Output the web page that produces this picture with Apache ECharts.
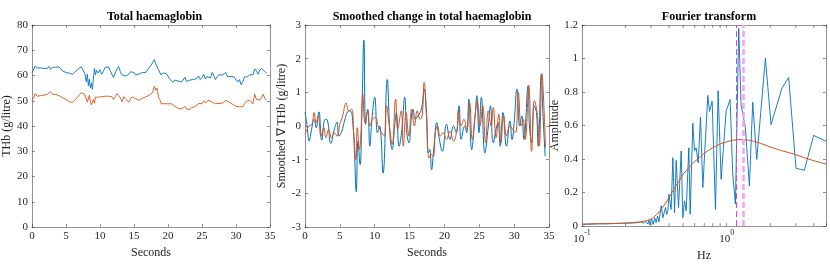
<!DOCTYPE html>
<html><head><meta charset="utf-8">
<script src="https://cdn.jsdelivr.net/npm/echarts@6/dist/echarts.min.js"></script>
<style>html,body{margin:0;padding:0;background:#fff}#c{width:830px;height:267px}</style>
</head><body><div id="c"></div>
<script>
// ---------- DATA ----------
const titles = ['Total haemaglobin', 'Smoothed change in total haemaglobin', 'Fourier transform'];
const xNames = ['Seconds', 'Seconds', 'Hz'];
const yNames = ['THb (g/litre)', 'Smoothed \u2207 THb (g/litre)', 'Amplitude'];

// Panel 1: total haemoglobin (seconds, g/litre)
const thbBlueT = [0,0.25,0.5,0.75,1,1.25,1.5,1.75,2,2.25,2.5,2.75,3,3.25,3.5,3.75,4,4.25,4.5,4.75,5,5.25,5.5,5.75,6,6.25,6.5,6.75,7,7.25,7.5,7.75,8,8.15,8.3,8.45,8.6,8.75,8.9,9.05,9.2,9.35,9.5,9.75,10,10.25,10.5,10.75,11,11.25,11.5,11.75,12,12.25,12.5,12.75,13,13.25,13.5,13.75,14,14.25,14.5,14.75,15,15.25,15.5,15.75,16,16.25,16.5,16.75,17,17.25,17.5,17.75,18,18.2,18.4,18.6,18.8,19,19.25,19.5,19.75,20,20.25,20.5,20.75,21,21.25,21.5,21.75,22,22.25,22.5,22.75,23,23.25,23.5,23.75,24,24.25,24.5,24.75,25,25.25,25.5,25.75,26,26.25,26.5,26.75,27,27.25,27.5,27.75,28,28.25,28.5,28.75,29,29.25,29.5,29.75,30,30.25,30.5,30.75,31,31.25,31.5,31.75,32,32.25,32.5,32.75,33,33.25,33.5,33.75,34,34.25,34.5];
const thbBlueV = [61,61.5,63.8,63,62.5,63,62.3,62.8,62.2,62.8,63.6,62.4,63.2,62.5,63.3,62.8,63.4,62.6,61.8,62.3,61.2,61.6,60.9,61.3,60.4,61.2,61.8,62.4,63,63.5,62.8,61,57.5,60.5,56,58.5,55,57,54.5,59,62.8,60.2,62,61,62.3,60.5,61.5,63.2,62.8,63.4,62,60.5,59.2,61,62.5,63.6,61.5,60.2,60.8,59.8,59.3,60.5,61.5,61.8,61.2,60.2,59.8,60.6,60.3,61.2,61.6,61.2,62.3,62.8,64,64.5,66.3,64.8,65.5,62.3,63,60.2,61,60.4,60.8,59.8,58.6,58.2,57.3,58.2,57.5,57.8,57.2,57.4,57,59.3,57.6,57.4,58.2,57.6,58.4,58,58.8,59.8,58.4,59.2,60.5,58.6,59.5,60.2,59,61.2,59.8,58.4,59.5,60.3,59.6,60.2,59.8,61.2,59.5,58.8,59.6,59,59.4,58.2,57.4,58.4,56.4,57.6,59.4,59.8,59.5,60.3,59.6,60.2,62.6,61.8,60.5,62,62.8,63.5,61.6,60.8];
const thbOrangeT = thbBlueT;
const thbOrangeV = [50.2,51,52.8,51.8,51.5,52,51.6,52.2,51.8,52.6,52.4,53.6,52.6,52.2,52.5,51.9,52,51.6,51.2,51.4,50.6,50.8,49.6,49.8,49.4,50,50.8,51.6,52.4,53.2,53.6,52.6,52,49.5,50.2,52.2,49.6,48.4,48.6,50.5,49,51.5,50.8,51.4,51,51.6,51.4,51.8,52.2,51.8,51.2,51.6,50.5,51.6,52.8,52,51.2,49.6,51.6,50.8,50.6,49.4,50.8,51.6,51.6,50.8,51.2,50.2,50.8,51,51.3,51.6,51.6,52.2,52.6,53.2,55.8,54.2,55,51.5,50.5,48.8,49.4,48.8,49,48.8,48.6,48.8,48.2,47.8,47.4,47,46.6,46.8,46.3,47.8,46.6,47,46.6,47.4,47.8,47.6,48.2,49,48.4,48.8,50,49.2,49.8,50.2,49.6,49.4,49.2,48.8,49.4,49,49.6,49,49.4,50.2,49.8,49.4,48.8,48.6,48.8,47.8,47.2,47.6,47.2,47.6,48.8,49.8,49.4,50.2,49.6,48.8,52.6,50.6,50,50.2,51.2,52.6,50.8,50.2];

// Panel 2: smoothed change (seconds, g/litre)
const dBlueT = [0,0.3,0.6,0.9,1.3,1.6,2.0,2.4,2.9,3.2,3.7,4.2,4.6,4.85,5.2,5.8,6.1,6.5,6.9,7.1,7.35,7.6,7.9,8.15,8.45,8.7,9.0,9.3,9.6,10.0,10.4,10.7,11.2,11.8,12.2,12.5,12.9,13.1,13.5,13.9,14.3,14.6,14.9,15.3,15.5,15.8,16.2,16.7,17.1,17.4,17.7,17.9,18.15,18.5,18.9,19.2,19.7,20.3,20.8,21.3,21.7,22.1,22.4,22.9,23.2,23.5,23.9,24.4,24.65,24.95,25.3,25.8,26.3,26.6,27.0,27.5,27.7,28.0,28.4,28.9,29.4,29.7,30.0,30.4,30.8,31.1,31.4,32.0,32.2,32.5,32.9,33.2,33.45,33.9,34.1,34.45];
const dBlueV = [0.42,0.0,-0.45,-0.15,0.2,-0.05,0.42,-0.42,0.2,0.18,-0.52,-0.1,0.12,-0.3,-0.2,0.25,0.42,0.45,0.0,-0.8,-1.95,-0.45,-1.15,0.3,2.55,0.05,0.5,-0.6,0.2,0.85,-0.2,0.0,-1.4,1.38,-0.3,-0.7,0.1,0.4,-0.6,-0.1,0.85,-0.2,-0.5,0.35,0.5,0.2,0.3,0.5,1.1,0.4,-0.8,-0.7,-1.3,-0.6,0.1,-0.3,-0.75,0.05,-0.4,0.0,-0.2,0.6,-0.4,0.0,-0.2,0.8,-0.7,0.3,0.9,-0.2,0.85,-0.8,0.0,0.6,-0.5,0.0,0.1,-0.6,0.4,-0.6,0.15,-0.4,0.1,1.1,0.0,0.3,-0.4,1.2,0.0,-0.5,0.6,0.4,-0.6,1.55,0.5,-0.9];
const dOrangeT = [0,0.3,0.6,1.0,1.3,1.6,1.9,2.3,2.7,3.0,3.4,3.8,4.2,4.6,5.0,5.4,5.9,6.3,6.7,7.0,7.3,7.5,7.8,8.0,8.3,8.6,9.0,9.3,9.7,10.1,10.5,11.0,11.4,11.7,12.1,12.5,13.0,13.3,13.8,14.1,14.5,14.9,15.3,15.7,16.1,16.5,16.8,17.1,17.4,17.8,18.1,18.4,18.7,19.0,19.4,19.8,20.3,20.8,21.3,21.8,22.0,22.4,22.8,23.2,23.6,24.0,24.4,24.7,25.1,25.5,25.9,26.3,26.7,27.0,27.4,27.8,28.1,28.5,28.9,29.4,29.8,30.2,30.6,31.0,31.3,31.6,32.1,32.5,32.9,33.3,33.6,34.0,34.2,34.5];
const dOrangeV = [-0.25,-0.1,0.0,0.05,0.4,0.1,0.3,-0.3,-0.05,-0.35,-0.1,-0.35,-0.2,-0.3,0.05,0.3,0.68,0.45,0.5,-0.3,-1.0,-0.05,-0.7,-0.3,0.95,0.1,0.45,0.0,0.2,0.25,0.0,-0.2,-0.3,0.6,0.0,-0.55,0.8,-0.1,0.45,-0.6,0.4,-0.3,0.5,0.0,0.45,0.2,0.3,1.3,0.5,-0.95,-0.85,-0.9,-0.2,0.0,-0.3,-0.2,-0.4,-0.15,-0.45,-0.1,0.45,0.0,0.2,-0.1,0.7,-0.4,0.3,0.75,0.0,0.6,-0.5,0.45,0.0,0.55,-0.35,0.35,-0.5,0.3,-0.3,0.0,-0.1,-0.2,1.0,0.0,0.2,-0.4,1.2,-0.75,0.75,0.4,-0.6,1.55,0.9,-0.65];

// Panel 3: Fourier transform (Hz, amplitude)
const fftHz = [0.1,0.115,0.13,0.145,0.16,0.18,0.2,0.22,0.24,0.255,0.265,0.275,0.285,0.29,0.295,0.302,0.31,0.318,0.325,0.333,0.34,0.3526,0.362,0.3777,0.385,0.392,0.398,0.413,0.4244,0.4357,0.4474,0.4644,0.4845,0.4975,0.5108,0.5245,0.5472,0.559,0.583,0.5985,0.6146,0.6345,0.6587,0.6836,0.7398,0.7597,0.7926,0.8359,0.8719,0.9146,0.99,1.055,1.10,1.148,1.21,1.256,1.346,1.434,1.512,1.611,1.849,2.023,2.409,2.678,3.009,3.435,3.983,4.85];
const fftAmp = [0.01,0.012,0.014,0.013,0.015,0.016,0.017,0.018,0.02,0.025,0.018,0.03,0.012,0.035,0.005,0.045,0.01,0.05,0.02,0.06,0.025,0.121,0.05,0.111,0.07,0.091,0.19,0.10,0.408,0.08,0.392,0.111,0.448,0.05,0.15,0.091,0.467,0.071,0.614,0.45,0.467,0.378,0.65,0.23,0.78,0.685,0.745,0.1,0.808,0.279,0.685,0.755,0.309,0.131,1.18,0.725,0.586,0.24,0.739,0.398,1.002,0.606,0.824,0.887,0.345,0.333,0.541,0.507];
const fitHz = [0.1,0.15,0.2,0.25,0.28,0.3,0.33,0.36,0.4,0.43,0.47,0.5,0.55,0.6,0.65,0.7,0.8,0.9,1.0,1.1,1.2,1.3,1.4,1.5,1.7,2.0,2.4,2.8,3.2,3.6,4.0,4.4,4.85];
const fitAmp = [0.012,0.015,0.018,0.025,0.032,0.042,0.07,0.11,0.17,0.22,0.27,0.31,0.35,0.385,0.41,0.435,0.468,0.49,0.503,0.512,0.516,0.516,0.513,0.508,0.495,0.472,0.45,0.434,0.418,0.402,0.39,0.38,0.37];
const markerHz = [1.16, 1.29];
const minorTickHz = [0.2,0.3,0.4,0.5,0.6,0.7,0.8,0.9,2,3,4];

// ---------- CHART ----------
const FONT = 'Liberation Serif';
const AX = '#262626';
const BLUE = '#0072BD', ORANGE = '#D95319';
const grids = [
  {left: 29, width: 241, top: 25, height: 202},
  {left: 305, width: 244, top: 25, height: 202},
  {left: 582, width: 244, top: 25, height: 202}
];
const zip = (a, b) => a.map((v, i) => [v, b[i]]);

const lineStyleAxis = {color: AX, width: 0.5};
function xAxes(g, base) {
  return [
    Object.assign({gridIndex: g, position: 'bottom',
      axisLine: {show: true, lineStyle: lineStyleAxis, onZero: false},
      axisTick: {show: true, inside: true, length: 3, lineStyle: lineStyleAxis},
      axisLabel: {color: AX, fontFamily: FONT, fontSize: 11, margin: 4},
      splitLine: {show: false},
      name: xNames[g], nameLocation: 'middle', nameGap: 17,
      nameTextStyle: {color: AX, fontFamily: FONT, fontSize: 12}}, base),
    Object.assign({gridIndex: g, position: 'top',
      axisLine: {show: true, lineStyle: lineStyleAxis, onZero: false},
      axisTick: {show: true, inside: true, length: 3, lineStyle: lineStyleAxis},
      axisLabel: {show: false}, splitLine: {show: false}}, base)
  ];
}
function yAxes(g, base, gap) {
  return [
    Object.assign({gridIndex: g, position: 'left',
      axisLine: {show: true, lineStyle: lineStyleAxis, onZero: false},
      axisTick: {show: true, inside: true, length: 3, lineStyle: lineStyleAxis},
      axisLabel: {color: AX, fontFamily: FONT, fontSize: 11, margin: 4},
      splitLine: {show: false},
      name: yNames[g], nameLocation: 'middle', nameGap: gap, nameRotate: 90,
      nameTextStyle: {color: AX, fontFamily: FONT, fontSize: 12}}, base),
    Object.assign({gridIndex: g, position: 'right',
      axisLine: {show: true, lineStyle: lineStyleAxis, onZero: false},
      axisTick: {show: true, inside: true, length: 3, lineStyle: lineStyleAxis},
      axisLabel: {show: false}, splitLine: {show: false}}, base)
  ];
}

const timeBase = {type: 'value', min: 0, max: 35, interval: 5};
const logBase = {type: 'log', logBase: 10, min: 0.1, max: 4.85};

const xAxisList = [].concat(
  xAxes(0, timeBase),
  xAxes(1, timeBase),
  xAxes(2, logBase)
);
// superscript tick labels for log axis
xAxisList[4].nameGap = 20;
xAxisList[4].axisLabel = {
  color: AX, fontFamily: FONT, margin: 3,
  formatter: function (v) {
    const e = Math.log10(v);
    if (Math.abs(e - Math.round(e)) > 1e-6) return '';
    return '{b|10}{s|' + Math.round(e) + '}';
  },
  rich: {
    b: {fontFamily: FONT, fontSize: 11, color: AX, lineHeight: 16, verticalAlign: 'bottom'},
    s: {fontFamily: FONT, fontSize: 8, color: AX, lineHeight: 16, verticalAlign: 'top'}
  }
};

const yAxisList = [].concat(
  yAxes(0, {type: 'value', min: 0, max: 80, interval: 10}, 15),
  yAxes(1, {type: 'value', min: -3, max: 3, interval: 1}, 12),
  yAxes(2, {type: 'value', min: 0, max: 1.2, interval: 0.2}, 14)
);

const lineCommon = {type: 'line', showSymbol: false, symbol: 'none', silent: true};

const option = {
  animation: false,
  backgroundColor: '#fff',
  title: titles.map((t, i) => ({
    text: t, left: grids[i].left + grids[i].width / 2, top: 6, textAlign: 'center',
    textStyle: {fontFamily: FONT, fontSize: 12, fontWeight: 'bold', color: '#000'}
  })),
  grid: grids,
  xAxis: xAxisList,
  yAxis: yAxisList,
  series: [
    Object.assign({}, lineCommon, {xAxisIndex: 0, yAxisIndex: 0, data: zip(thbBlueT, thbBlueV), lineStyle: {color: BLUE, width: 0.9}, itemStyle: {color: BLUE}}),
    Object.assign({}, lineCommon, {xAxisIndex: 0, yAxisIndex: 0, data: zip(thbOrangeT, thbOrangeV), lineStyle: {color: ORANGE, width: 0.9}, itemStyle: {color: ORANGE}}),
    Object.assign({}, lineCommon, {xAxisIndex: 2, yAxisIndex: 2, smooth: 0.45, data: zip(dBlueT, dBlueV), lineStyle: {color: BLUE, width: 1}, itemStyle: {color: BLUE}}),
    Object.assign({}, lineCommon, {xAxisIndex: 2, yAxisIndex: 2, smooth: 0.45, data: zip(dOrangeT, dOrangeV), lineStyle: {color: ORANGE, width: 1}, itemStyle: {color: ORANGE}}),
    Object.assign({}, lineCommon, {xAxisIndex: 4, yAxisIndex: 4, data: zip(fftHz, fftAmp), lineStyle: {color: BLUE, width: 0.9}, itemStyle: {color: BLUE},
      markLine: {silent: true, symbol: ['none', 'none'], label: {show: false},
        data: [
          {xAxis: markerHz[0], lineStyle: {color: '#e040e0', width: 1, type: [6, 3]}},
          {xAxis: markerHz[1], lineStyle: {color: '#f7a0f7', width: 2.5, type: [6, 3]}}
        ]}}),
    Object.assign({}, lineCommon, {xAxisIndex: 4, yAxisIndex: 4, data: zip(fitHz, fitAmp), lineStyle: {color: ORANGE, width: 1}, itemStyle: {color: ORANGE}}),
    {
      type: 'custom', xAxisIndex: 4, yAxisIndex: 4, silent: true, clip: false,
      data: minorTickHz.map(f => [f, 0]),
      renderItem: function (params, api) {
        const f = api.value(0);
        const b = api.coord([f, 0]);
        const t = api.coord([f, 1.2]);
        return {type: 'group', children: [
          {type: 'line', shape: {x1: b[0], y1: b[1], x2: b[0], y2: b[1] - 3}, style: {stroke: AX, lineWidth: 0.5}},
          {type: 'line', shape: {x1: t[0], y1: t[1], x2: t[0], y2: t[1] + 3}, style: {stroke: AX, lineWidth: 0.5}}
        ]};
      }
    }
  ]
};

const chart = echarts.init(document.getElementById('c'), null, {renderer: 'canvas'});
chart.setOption(option);
</script>
</body></html>
